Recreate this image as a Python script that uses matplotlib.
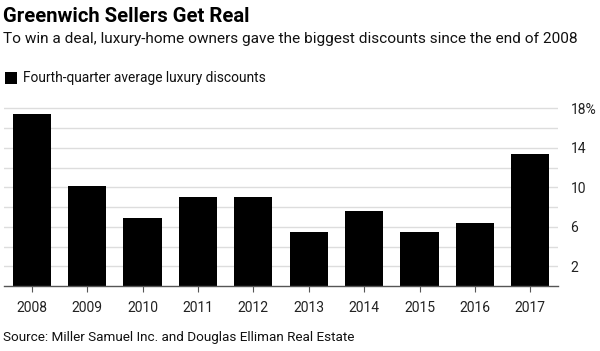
import matplotlib
matplotlib.use("Agg")
import matplotlib.pyplot as plt
from matplotlib.patches import Rectangle

years = ["2008", "2009", "2010", "2011", "2012", "2013", "2014", "2015", "2016", "2017"]
discounts = [17.4, 10.1, 6.9, 9.0, 9.0, 5.5, 7.6, 5.5, 6.4, 13.4]
ytick_vals = [2, 6, 10, 14, 18]
ytick_labels = ["2", "6", "10", "14", "18%"]
grid_vals = [2, 4, 6, 8, 10, 12, 14, 16, 18]

title = "Greenwich Sellers Get Real"
subtitle = "To win a deal, luxury-home owners gave the biggest discounts since the end of 2008"
legend_label = "Fourth-quarter average luxury discounts"
source = "Source: Miller Samuel Inc. and Douglas Elliman Real Estate"

plt.rcParams['font.family'] = ['Roboto', 'DejaVu Sans']

fig = plt.figure(figsize=(6.0, 3.51), dpi=100)
ax = fig.add_axes([4/600, 1-286/351, (558-4)/600, (286-103.4)/351])

x = list(range(len(years)))
ax.bar(x, discounts, width=0.686, color="black", zorder=3)
for g in grid_vals:
    ax.axhline(g, color="#dddddd", lw=1.0, zorder=1)

ax.set_xlim(-0.5, len(years) - 0.5)
ax.set_ylim(0, 18.5)
ax.set_xticks(x)
ax.set_xticklabels(years, fontsize=10, color="#222222")
ax.yaxis.tick_right()
ax.set_yticks(ytick_vals)
ax.set_yticklabels(ytick_labels, fontsize=10, color="#222222")
ax.tick_params(axis='y', length=0, pad=9)
ax.tick_params(axis='x', length=4, width=0.8, color="#555555", pad=7)
for s in ["top", "left", "right"]:
    ax.spines[s].set_visible(False)
ax.spines["bottom"].set_color("#555555")
ax.spines["bottom"].set_linewidth(1.0)
ax.spines["bottom"].set_zorder(4)

fig.text(3/600, 1-16/351, title, fontsize=14.6, fontweight="bold", va="center", ha="left", color="black")
fig.text(3/600, 1-39/351, subtitle, fontsize=11.1, va="center", ha="left", color="#111111")
fig.patches.append(Rectangle((5/600, 1-84/351), 12/600, 12/351, transform=fig.transFigure,
                             facecolor="black", edgecolor="none"))
fig.text(23/600, 1-78/351, legend_label, fontsize=9.9, va="center", ha="left", color="#111111")
fig.text(3/600, 1-338/351, source, fontsize=9.7, va="center", ha="left", color="#111111")

fig.savefig("out.png", dpi=100, facecolor="white")
